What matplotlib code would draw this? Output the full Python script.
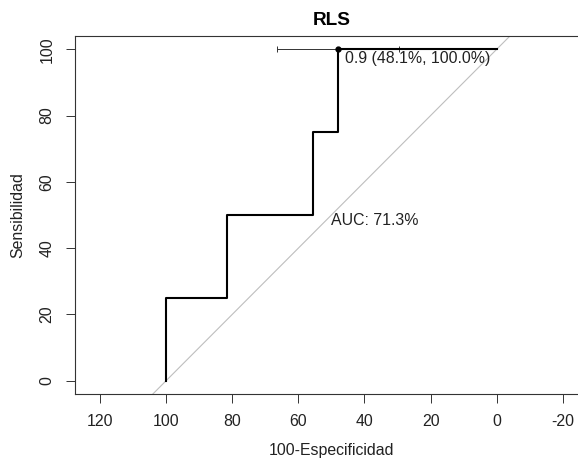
import matplotlib
matplotlib.use("Agg")
import matplotlib.pyplot as plt

plt.rcParams['font.family'] = ['Liberation Sans', 'DejaVu Sans']
plt.rcParams['axes.unicode_minus'] = False

# ROC curve (specificity %, sensitivity %) for RLS
especificidad = [100, 100, 81.5, 81.5, 55.6, 55.6, 48.1, 48.1, 0]
sensibilidad = [0, 25, 25, 50, 50, 75, 75, 100, 100]

# best threshold and CI of specificity
umbral = 0.9
umbral_esp = 48.1
umbral_sens = 100.0
ci_esp = [66.7, 29.6]
auc = 71.3

x_ticks = [120, 100, 80, 60, 40, 20, 0, -20]
y_ticks = [0, 20, 40, 60, 80, 100]

fig = plt.figure(figsize=(5.78, 4.63), dpi=100)
ax = fig.add_axes([74.5 / 578, 69 / 463, 513.8 / 578, 358 / 463])

# chance diagonal
ax.plot([110, -10], [-10, 110], color='#bebebe', lw=0.8, zorder=1)

ax.plot(especificidad, sensibilidad, color='black', lw=1.5, zorder=3)

# CI bar for specificity at the threshold
ax.errorbar([umbral_esp], [umbral_sens],
            xerr=[[ci_esp[0] - umbral_esp], [umbral_esp - ci_esp[1]]],
            fmt='none', ecolor='#333333', elinewidth=0.7, capsize=2.5,
            capthick=0.7, zorder=2)
ax.plot([umbral_esp], [umbral_sens], 'o', color='black', ms=3.5, zorder=4)
ax.annotate(f"{umbral} ({umbral_esp:.1f}%, {umbral_sens:.1f}%)",
            xy=(umbral_esp, umbral_sens), xytext=(5, -1.5),
            textcoords='offset points', ha='left', va='top',
            fontsize=11.4, color='#222222')

ax.text(50, 50.5, f"AUC: {auc}%", ha='left', va='top', fontsize=11.4,
        color='#222222')

ax.set_xlim(127.7, -27.7)
ax.set_ylim(-4, 104)
ax.set_xticks(x_ticks)
ax.set_yticks(y_ticks)
ax.tick_params(axis='both', length=6.5, width=0.7, color='#333333',
               labelsize=11.4, labelcolor='#222222')
ax.tick_params(axis='x', pad=8)
ax.tick_params(axis='y', pad=8)
for lbl in ax.get_yticklabels():
    lbl.set_rotation(90)
    lbl.set_va('center')
for sp in ax.spines.values():
    sp.set_color('#333333')
    sp.set_linewidth(0.8)
ax.spines['right'].set_visible(False)

ax.set_xlabel("100-Especificidad", fontsize=11.4, color='#222222', labelpad=10)
ax.set_ylabel("Sensibilidad", fontsize=11.4, color='#222222', labelpad=10)
ax.set_title("RLS", fontsize=13.7, fontweight='bold', pad=8)

fig.savefig("out.png", dpi=100)
